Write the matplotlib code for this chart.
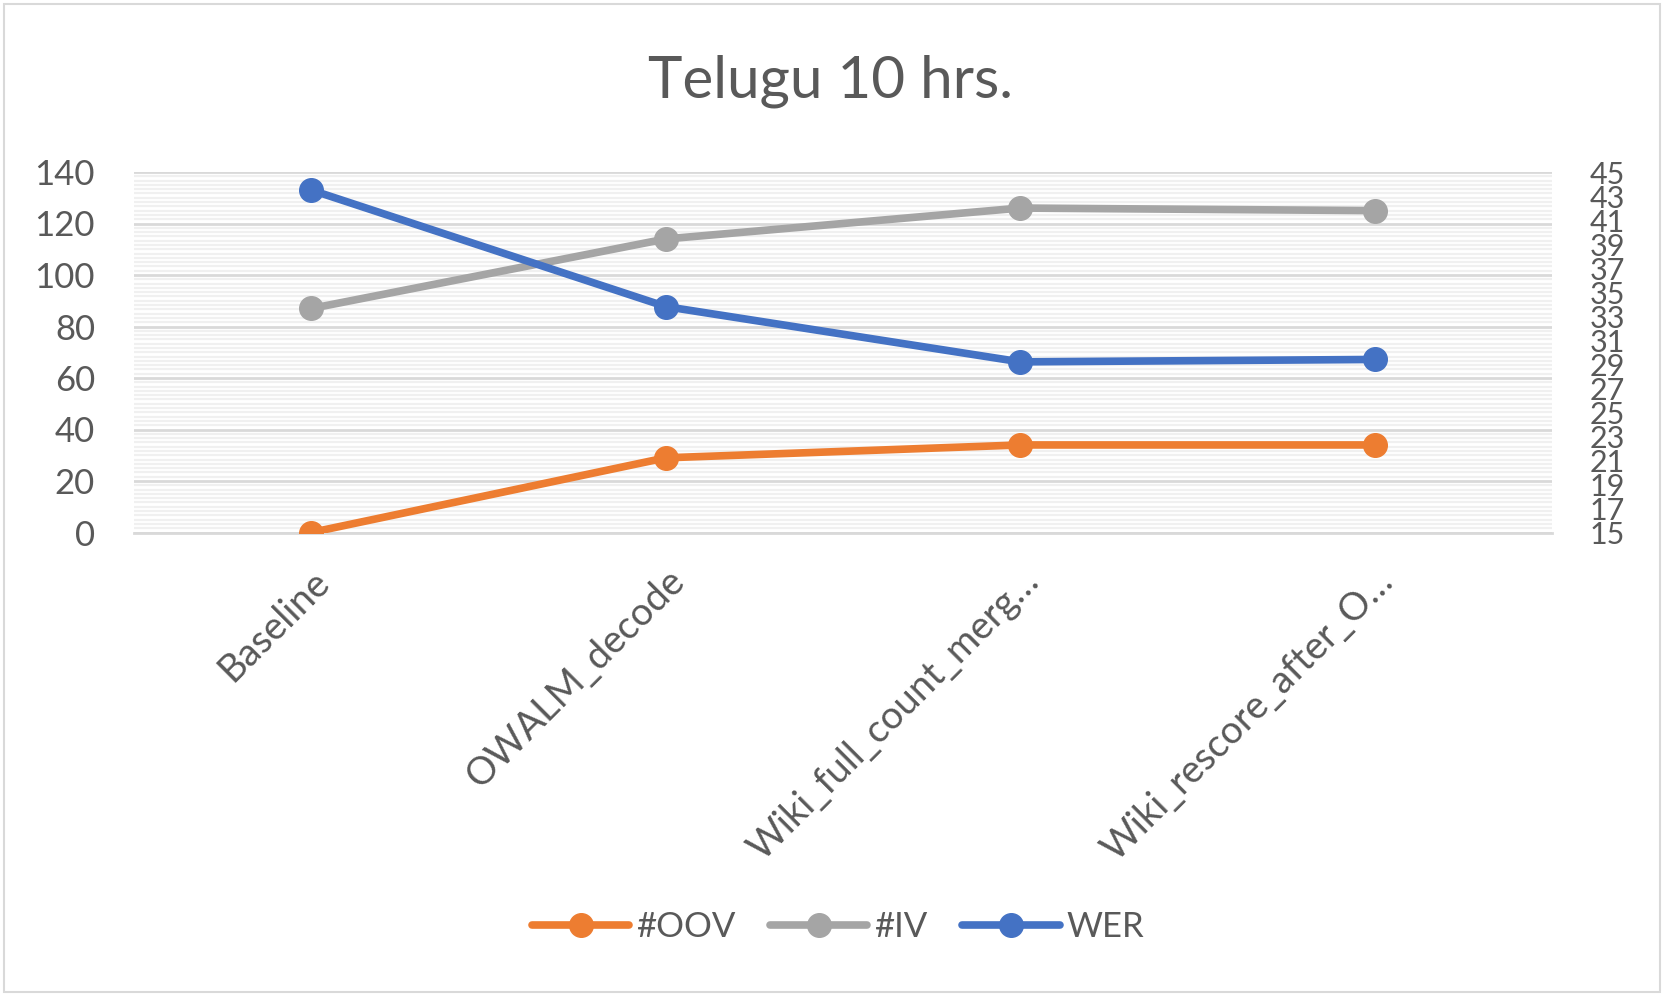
import matplotlib
matplotlib.use("Agg")
import matplotlib.pyplot as plt
from matplotlib.ticker import MultipleLocator
from matplotlib.patches import Rectangle

categories = ["Baseline", "OWALM_decode", "Wiki_full_count_merg\u2026", "Wiki_rescore_after_O\u2026"]
oov = [0, 29, 34, 34]
iv = [87, 114, 126, 125]
wer = [43.5, 33.8, 29.2, 29.4]
left_ticks = [0, 20, 40, 60, 80, 100, 120, 140]
right_ticks = list(range(15, 46, 2))

TEXT = "#595959"
ORANGE = "#ED7D31"
GRAY = "#A5A5A5"
BLUE = "#4472C4"

plt.rcParams['font.family'] = ['Lato', 'DejaVu Sans']

W, H = 1668, 999
fig = plt.figure(figsize=(W / 100, H / 100), dpi=100)
fig.patch.set_facecolor("white")

ax = fig.add_axes([134 / W, 1 - 532.5 / H, (1552 - 134) / W, (532.5 - 172) / H])
ax2 = ax.twinx()

x = list(range(len(categories)))
lw = 5.5
ms = 17
l1, = ax.plot(x, oov, color=ORANGE, lw=lw, marker="o", ms=ms, label="#OOV", zorder=3, solid_capstyle="round")
l2, = ax.plot(x, iv, color=GRAY, lw=lw, marker="o", ms=ms, label="#IV", zorder=3, solid_capstyle="round")
l3, = ax2.plot(x, wer, color=BLUE, lw=lw, marker="o", ms=ms, label="WER", zorder=3, solid_capstyle="round")

ax.set_xlim(-0.5, len(categories) - 0.5)
ax.set_ylim(0, 140)
ax2.set_ylim(15, 45)
ax.set_yticks(left_ticks)
ax2.set_yticks(right_ticks)
ax.yaxis.set_minor_locator(MultipleLocator(20 / 12))

ax.grid(axis="y", which="major", color="#D9D9D9", lw=2, zorder=0)
ax.grid(axis="y", which="minor", color="#F0F0F0", lw=1.6, zorder=0)
ax.set_axisbelow(True)

for a in (ax, ax2):
    for s in a.spines.values():
        s.set_visible(False)
ax.spines["bottom"].set_visible(True)
ax.spines["bottom"].set_color("#D9D9D9")
ax.spines["bottom"].set_linewidth(2)

ax.tick_params(axis="y", which="both", length=0, pad=28, labelsize=25, labelcolor=TEXT)
ax2.tick_params(axis="y", which="both", length=0, pad=27, labelsize=22, labelcolor=TEXT)
ax.tick_params(axis="x", which="both", length=0, pad=22, labelsize=27.5, labelcolor=TEXT)
ax.set_xticks(x)
ax.set_xticklabels(categories, rotation=45, ha="right", rotation_mode="anchor")

fig.text(830 / W, 1 - 98 / H, "Telugu 10 hrs.", ha="center", va="baseline",
         fontsize=42, color=TEXT)

leg = fig.legend(handles=[l1, l2, l3], loc="center", bbox_to_anchor=(838 / W, 1 - 927 / H),
                 ncol=3, frameon=False, fontsize=25, handlelength=2.8, handletextpad=0.2,
                 columnspacing=1.0, labelcolor=TEXT)

fig.patches.append(Rectangle((4 / W, 7 / H), (1660 - 4) / W, (995 - 7) / H,
                             transform=fig.transFigure, fill=False,
                             edgecolor="#D9D9D9", lw=1.5))

fig.savefig("out.png", dpi=100, facecolor="white")
